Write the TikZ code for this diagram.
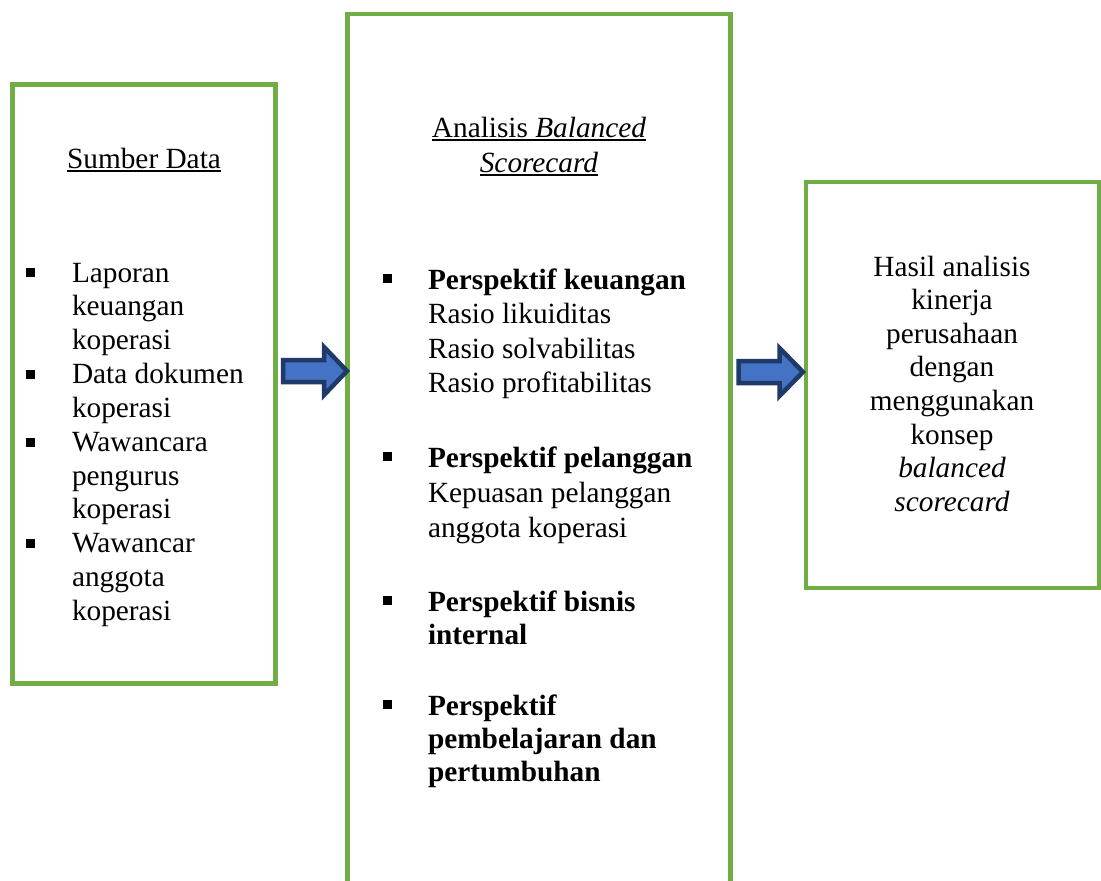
\documentclass[tikz,border=0pt]{standalone}
\usepackage{fontspec}
\setmainfont{Liberation Serif}
\definecolor{grn}{HTML}{70AD47}
\definecolor{afill}{HTML}{4472C4}
\definecolor{aline}{HTML}{1F3A68}
\newcommand\myul[1]{\setbox0\hbox{#1}\rlap{\rule[-3.5pt]{\wd0}{1.6pt}}\box0}
\begin{document}
\begin{tikzpicture}[x=1pt,y=-1pt,
  txt/.style={font=\fontsize{29.3}{34}\selectfont, inner sep=0pt, outer sep=0pt},
  lt/.style={txt, anchor=base west},
  ct/.style={txt, anchor=base},
  gbox/.style={draw=grn, line width=4.5pt, fill=white, inner sep=0pt},
  arrowshape/.style={draw=aline, fill=afill, line width=4.5pt, line join=miter},
  bul/.style={fill=black}]
\useasboundingbox (0,0) rectangle (1101,881);
\clip (0,0) rectangle (1101,881);
\fill[white] (0,0) rectangle (1101,881);

% boxes
\node[gbox, minimum width=263pt, minimum height=599pt] (src) at (144,384) {};
\node[gbox, minimum width=383pt, minimum height=936pt] (bsc) at (539,482) {};
\node[gbox, minimum width=293pt, minimum height=406pt] (res) at (952.5,385) {};

% arrows
\coordinate (a1) at (283,371);
\coordinate (a2) at (738.5,372);
\draw[arrowshape, shift={(a1)}] (0,-11) -- (41,-11) -- (41,-24) -- (64,0) -- (41,24) -- (41,11) -- (0,11) -- cycle;
\draw[arrowshape, shift={(a2)}] (0,-11) -- (41,-11) -- (41,-24) -- (64.5,0) -- (41,24) -- (41,11) -- (0,11) -- cycle;

% box 1 text
\node[ct] (s0) at (144,168) {\myul{Sumber Data}};
\node[lt] (s1) at (72,282) {Laporan};
\node[lt] (s2) at (72,315.7) {keuangan};
\node[lt] (s3) at (72,349.4) {koperasi};
\node[lt] (s4) at (72,383.8) {Data dokumen};
\node[lt] (s5) at (72,417.5) {koperasi};
\node[lt] (s6) at (72,451.5) {Wawancara};
\node[lt] (s7) at (72,485.2) {pengurus};
\node[lt] (s8) at (72,518.9) {koperasi};
\node[lt] (s9) at (72,552.6) {Wawancar};
\node[lt] (s10) at (72,586.3) {anggota};
\node[lt] (s11) at (72,620) {koperasi};
\foreach \yy in {282,383.8,451.5,552.6}
  \fill[bul] (26,\yy-14) rectangle (35,\yy-5);

% box 2 text
\node[ct] (b0) at (539,137) {\myul{Analisis \textit{Balanced}}};
\node[ct] (b1) at (539,172) {\myul{\textit{Scorecard}}};
\node[lt] (b2) at (428,289) {\textbf{Perspektif keuangan}};
\node[lt] (b3) at (428,323.5) {Rasio likuiditas};
\node[lt] (b4) at (428,358) {Rasio solvabilitas};
\node[lt] (b5) at (428,392.5) {Rasio profitabilitas};
\node[lt] (b6) at (428,467) {\textbf{Perspektif pelanggan}};
\node[lt] (b7) at (428,502) {Kepuasan pelanggan};
\node[lt] (b8) at (428,537) {anggota koperasi};
\node[lt] (b9) at (428,611) {\textbf{Perspektif bisnis}};
\node[lt] (b10) at (428,644.5) {\textbf{internal}};
\node[lt] (b11) at (428,715) {\textbf{Perspektif}};
\node[lt] (b12) at (428,748) {\textbf{pembelajaran dan}};
\node[lt] (b13) at (428,781) {\textbf{pertumbuhan}};
\foreach \yy in {289,467,611,715}
  \fill[bul] (383,\yy-15) rectangle (392,\yy-6);

% box 3 text
\node[ct] (r1) at (952,276) {Hasil analisis};
\node[ct] (r2) at (952,309.6) {kinerja};
\node[ct] (r3) at (952,343.2) {perusahaan};
\node[ct] (r4) at (952,376.8) {dengan};
\node[ct] (r5) at (952,410.4) {menggunakan};
\node[ct] (r6) at (952,444) {konsep};
\node[ct] (r7) at (952,477.6) {\textit{balanced}};
\node[ct] (r8) at (952,511.2) {\textit{scorecard}};
\end{tikzpicture}
\end{document}
